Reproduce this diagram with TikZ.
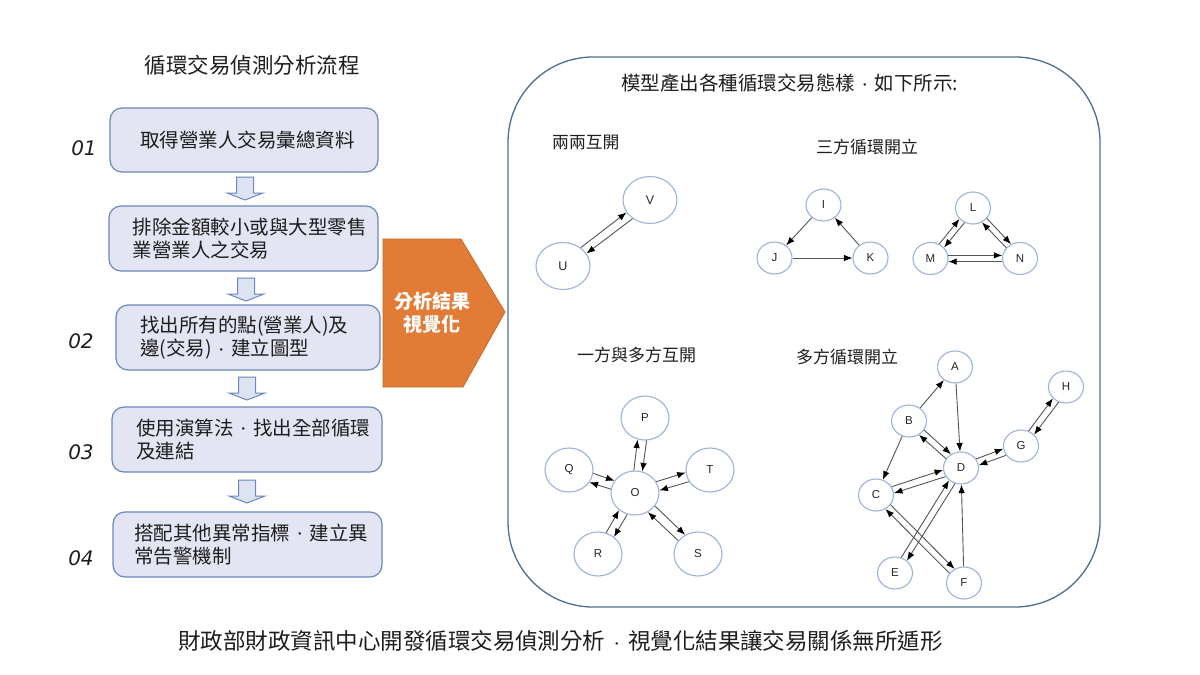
\documentclass[tikz,border=0pt]{standalone}
\usepackage{fontspec}
\setmainfont{Liberation Sans}
\newfontfamily\cjk{Noto Sans CJK TC}
\newfontfamily\numfont{DejaVu Sans}
\usetikzlibrary{calc,arrows.meta,shapes.geometric}
\definecolor{boxfill}{HTML}{E4E5F3}
\definecolor{boxline}{HTML}{6A87BE}
\definecolor{arrfill}{HTML}{DDE3F1}
\definecolor{orangef}{HTML}{E27B36}
\definecolor{oranged}{HTML}{C4692C}
\definecolor{panelc}{HTML}{4C6E91}
\definecolor{nodeline}{HTML}{9FB2D8}
\definecolor{edgec}{HTML}{555555}
\definecolor{textc}{HTML}{1E1E1E}
\newcommand\middot{\makebox[1em]{\fontsize{12}{12}\selectfont\raisebox{0.1em}{·}}}
\newcommand\twoway[3][10]{%
  \draw[arr] let \p1=($(#3.center)-(#2.center)$), \n1={atan2(\y1,\x1)+#1}, \n2={atan2(\y1,\x1)+180-#1} in (#2.\n1) -- (#3.\n2);
  \draw[arr] let \p1=($(#2.center)-(#3.center)$), \n1={atan2(\y1,\x1)+#1}, \n2={atan2(\y1,\x1)+180-#1} in (#3.\n1) -- (#2.\n2);
}
\begin{document}
\begin{tikzpicture}[x=1pt,y=-1pt,
  flowbox/.style={draw=boxline, fill=boxfill, line width=1.2pt, rounded corners=12pt, align=left, inner ysep=4pt,
    font=\cjk\fontsize{19.5}{23.5}\selectfont, text=textc},
  downarr/.style={draw=boxline, fill=arrfill, line width=1pt, line join=miter},
  stepnum/.style={font=\numfont\itshape\fontsize{20}{24}\selectfont, text=textc},
  cjklabel/.style={font=\cjk\fontsize{17}{20}\selectfont, text=textc, anchor=west, inner sep=0pt},
  gn/.style={ellipse, draw=nodeline, fill=white, line width=1.1pt, inner sep=0pt,
    font=\fontsize{11.5}{12}\selectfont, text=black!85},
  gsmall/.style={gn, minimum width=35pt, minimum height=32pt},
  gmid/.style={gn, minimum width=48pt, minimum height=44pt},
  gbig/.style={gn, minimum width=54pt, minimum height=47pt, font=\fontsize{12.5}{13}\selectfont},
  arr/.style={draw=edgec, line width=0.9pt, -{Latex[length=8.5pt,width=6.5pt,color=black]}}
]
\useasboundingbox (0,0) rectangle (1200,675);
\fill[white] (0,0) rectangle (1200,675);

% left title
\node[font=\cjk\fontsize{21.5}{24}\selectfont, text=textc] (ltitle) at (252,65) {循環交易偵測分析流程};

% flow boxes
\node[flowbox, inner xsep=30pt, text width=208pt, minimum height=64pt] (b1) at (244,140) {取得營業人交易彙總資料};
\node[flowbox, inner xsep=23.5pt, text width=222pt, minimum height=65pt] (b2) at (243.5,238.5) {排除金額較小或與大型零售\\業營業人之交易};
\node[flowbox, inner xsep=24pt, text width=216pt, minimum height=65pt] (b3) at (248,337.5) {找出所有的點(營業人)及\\邊(交易)\middot 建立圖型};
\node[flowbox, inner xsep=24pt, text width=222pt, minimum height=65pt] (b4) at (247,439.5) {使用演算法\middot 找出全部循環\\及連結};
\node[flowbox, inner xsep=21pt, text width=227pt, minimum height=65pt] (b5) at (247.5,544.5) {搭配其他異常指標\middot 建立異\\常告警機制};

% step numbers
\node[stepnum] (n1) at (84,148) {01};
\node[stepnum] (n2) at (81,341) {02};
\node[stepnum] (n3) at (81,452) {03};
\node[stepnum] (n4) at (81,558) {04};

% down block arrows
\foreach \cx/\ty in {245/177, 246/278, 247/377, 247/480}{
  \draw[downarr] (\cx-8.5,\ty) -- (\cx+8.5,\ty) -- (\cx+8.5,\ty+16) -- (\cx+18,\ty+16) -- (\cx,\ty+23)
     -- (\cx-18,\ty+16) -- (\cx-8.5,\ty+16) -- cycle;
}

% orange pentagon arrow
\draw[fill=orangef, draw=oranged, line width=0.8pt] (383,239) -- (461,239) -- (505,312) -- (463,387) -- (383,387) -- cycle;
\node[font=\cjk\bfseries\fontsize{19}{23}\selectfont, text=white, align=center] (vis) at (432,313) {分析結果\\視覺化};

% right panel
\node[draw=panelc, line width=1.3pt, rounded corners=85pt, minimum width=592pt, minimum height=550pt, inner sep=0pt] (panel) at (804,332) {};
\node[font=\cjk\fontsize{19.5}{23}\selectfont, text=textc, anchor=west, inner sep=0pt] (rtitle) at (621,83) {模型產出各種循環交易態樣\middot 如下所示:};

\node[cjklabel, font=\cjk\fontsize{16.8}{20}\selectfont] (l1) at (552,142) {兩兩互開};
\node[cjklabel] (l2) at (816,147) {三方循環開立};
\node[cjklabel] (l3) at (577,355) {一方與多方互開};
\node[cjklabel] (l4) at (796,357) {多方循環開立};

% pair
\node[gbig] (U) at (563,266) {U};
\node[gbig] (V) at (650,200) {V};
\twoway[9]{U}{V}

% triangle
\node[gsmall] (I) at (823.5,205) {I};
\node[gsmall] (J) at (774.5,258) {J};
\node[gsmall] (K) at (870.5,258) {K};
\draw[arr] (I) -- (J);
\draw[arr] (J) -- (K);
\draw[arr] (K) -- (I);

\node[gsmall] (L) at (973,208) {L};
\node[gsmall] (M) at (930.5,258.5) {M};
\node[gsmall] (N) at (1020,258.5) {N};
\twoway[10]{L}{M}
\twoway[10]{L}{N}
\twoway[10]{M}{N}

% star
\node[gmid] (O) at (635,493) {O};
\node[gmid] (P) at (645,418) {P};
\node[gmid] (Q) at (569,470) {Q};
\node[gmid] (T) at (710,470) {T};
\node[gmid] (R) at (598,554) {R};
\node[gmid] (S) at (698,554) {S};
\twoway[11]{O}{P}
\twoway[11]{O}{Q}
\twoway[11]{O}{T}
\twoway[11]{O}{R}
\twoway[11]{O}{S}

% multi
\node[gsmall] (A) at (955,367) {A};
\node[gsmall] (B) at (909,421) {B};
\node[gsmall] (C) at (876,495) {C};
\node[gsmall] (D) at (961,468) {D};
\node[gsmall] (E) at (895,573) {E};
\node[gsmall] (F) at (964,583) {F};
\node[gsmall] (G) at (1021,446) {G};
\node[gsmall] (H) at (1066,387) {H};
\draw[arr] (B) -- (A);
\draw[arr] (A) -- (D);
\draw[arr] (B) -- (C);
\draw[arr] (F) -- (D);
\twoway[11]{B}{D}
\twoway[11]{C}{D}
\twoway[11]{D}{G}
\twoway[11]{G}{H}
\twoway[11]{D}{E}
\twoway[11]{C}{F}

% caption
\node[font=\cjk\fontsize{22.5}{26}\selectfont, text=textc] (cap) at (560.5,641) {財政部財政資訊中心開發循環交易偵測分析\middot 視覺化結果讓交易關係無所遁形};
\end{tikzpicture}
\end{document}
